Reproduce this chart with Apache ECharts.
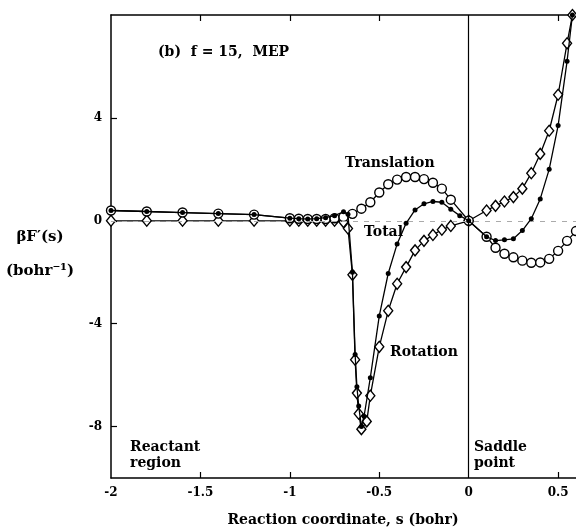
<!DOCTYPE html>
<html>
<head>
<meta charset="utf-8">
<script src="https://cdn.jsdelivr.net/npm/echarts@6/dist/echarts.min.js"></script>
<style>
html, body { margin: 0; padding: 0; background: #fff; }
#chart { width: 576px; height: 531px; }
</style>
</head>
<body>
<div id="chart"></div>
<script>
// reaction coordinate s (bohr) and beta*F'(s) (bohr^-1)
const sTrans = [-2, -1.8, -1.6, -1.4, -1.2, -1.0, -0.95, -0.9, -0.85, -0.8, -0.75, -0.7,
    -0.65, -0.6, -0.55, -0.5, -0.45, -0.4, -0.35, -0.3, -0.25, -0.2, -0.15, -0.1,
    0, 0.1, 0.15, 0.2, 0.25, 0.3, 0.35, 0.4, 0.45, 0.5, 0.55, 0.6];
const vTrans = [0.4, 0.36, 0.32, 0.28, 0.24, 0.1, 0.08, 0.07, 0.07, 0.07, 0.1, 0.15,
    0.27, 0.47, 0.72, 1.1, 1.42, 1.6, 1.7, 1.7, 1.62, 1.48, 1.25, 0.82,
    0, -0.62, -1.05, -1.28, -1.42, -1.55, -1.63, -1.62, -1.48, -1.17, -0.78, -0.4];

const sTotal = [-2, -1.8, -1.6, -1.4, -1.2, -1.0, -0.95, -0.9, -0.85, -0.8, -0.75, -0.7,
    -0.675, -0.65, -0.635, -0.625, -0.615, -0.6, -0.585,
    -0.55, -0.5, -0.45, -0.4, -0.35, -0.3, -0.25, -0.2, -0.15, -0.1, -0.05, 0,
    0.1, 0.15, 0.2, 0.25, 0.3, 0.35, 0.4, 0.45, 0.5, 0.55, 0.58];
const vTotal = [0.4, 0.36, 0.32, 0.28, 0.24, 0.1, 0.08, 0.07, 0.08, 0.12, 0.2, 0.35,
    0.25, -2.0, -5.2, -6.45, -7.2, -8.0, -7.6,
    -6.1, -3.7, -2.05, -0.9, -0.1, 0.42, 0.66, 0.75, 0.72, 0.45, 0.2, 0,
    -0.62, -0.77, -0.74, -0.7, -0.38, 0.08, 0.85, 2.0, 3.7, 6.2, 8.0];

const sRot = [-2, -1.8, -1.6, -1.4, -1.2, -1.0, -0.95, -0.9, -0.85, -0.8, -0.75, -0.7,
    -0.675, -0.65, -0.635, -0.625, -0.615, -0.6,
    -0.57, -0.55, -0.5, -0.45, -0.4, -0.35, -0.3, -0.25, -0.2, -0.15, -0.1, 0,
    0.1, 0.15, 0.2, 0.25, 0.3, 0.35, 0.4, 0.45, 0.5, 0.55, 0.58];
const vRot = [0, 0, 0, 0, 0, 0, 0, 0, 0, 0, 0, -0.05,
    -0.3, -2.1, -5.4, -6.7, -7.5, -8.1,
    -7.8, -6.8, -4.9, -3.5, -2.45, -1.8, -1.15, -0.78, -0.55, -0.35, -0.2, 0,
    0.4, 0.58, 0.75, 0.92, 1.25, 1.85, 2.6, 3.5, 4.9, 6.9, 8.0];

const xTickLabels = [-2, -1.5, -1, -0.5, 0, 0.5];
const xTicks = [-1.5, -1, -0.5, 0.5];
const yTickLabels = [-8, -4, 0, 4];

function zip(xs, ys) {
    return xs.map((x, i) => [x, ys[i]]);
}

const SERIF = '"DejaVu Serif", serif';
const textFont = 'bold 14px ' + SERIF;
const nameFont = 'bold 15px ' + SERIF;

const chart = echarts.init(document.getElementById('chart'));

const axisLabelStyle = {
    color: '#000',
    fontFamily: SERIF,
    fontWeight: 'bold',
    fontSize: 12,
};

const option = {
    animation: false,
    backgroundColor: '#fff',
    grid: { left: 111, top: 15, width: 466, height: 463 },
    xAxis: [
        {
            type: 'value', min: -2, max: 0.6, position: 'bottom',
            axisLine: { onZero: false, lineStyle: { color: '#000', width: 1.5 } },
            axisTick: { inside: true, length: 6, customValues: xTicks, lineStyle: { color: '#000', width: 1.2 } },
            axisLabel: Object.assign({ customValues: xTickLabels, margin: 9 }, axisLabelStyle),
            splitLine: { show: false },
        },
        {
            type: 'value', min: -2, max: 0.6, position: 'top',
            axisLine: { onZero: false, lineStyle: { color: '#000', width: 1.5 } },
            axisTick: { inside: true, length: 6, customValues: xTicks, lineStyle: { color: '#000', width: 1.2 } },
            axisLabel: { show: false },
            splitLine: { show: false },
        }
    ],
    yAxis: [
        {
            type: 'value', min: -10, max: 8, position: 'left',
            axisLine: { onZero: false, lineStyle: { color: '#000', width: 1.5 } },
            axisTick: { inside: true, length: 6, customValues: yTickLabels, lineStyle: { color: '#000', width: 1.2 } },
            axisLabel: Object.assign({ customValues: yTickLabels, margin: 9 }, axisLabelStyle),
            splitLine: { show: false },
        }
    ],
    series: [
        {
            name: 'Rotation', type: 'line', data: zip(sRot, vRot),
            symbol: 'diamond', symbolSize: [9, 11], showAllSymbol: true,
            lineStyle: { color: '#000', width: 1.3 },
            itemStyle: { color: '#fff', borderColor: '#000', borderWidth: 1.4 },
            z: 3,
            markLine: {
                silent: true, symbol: 'none', label: { show: false },
                data: [
                    { xAxis: 0, lineStyle: { type: 'solid', color: '#000', width: 1.2 } },
                    { yAxis: 0, lineStyle: { type: [5, 6], color: '#aaa', width: 1 } }
                ]
            }
        },
        {
            name: 'Translation', type: 'line', data: zip(sTrans, vTrans),
            symbol: 'circle', symbolSize: 9, showAllSymbol: true,
            lineStyle: { color: '#000', width: 1.3 },
            itemStyle: { color: '#fff', borderColor: '#000', borderWidth: 1.4 },
            z: 4,
        },
        {
            name: 'Total', type: 'line', data: zip(sTotal, vTotal),
            symbol: 'circle', symbolSize: 5, showAllSymbol: true,
            lineStyle: { color: '#000', width: 1.3 },
            itemStyle: { color: '#000', borderColor: '#000', borderWidth: 0 },
            z: 5,
        }
    ],
    graphic: [
        { type: 'text', x: 158, y: 52, style: { text: '(b)  f = 15,  MEP', font: textFont, fill: '#000', verticalAlign: 'middle' } },
        { type: 'text', x: 345, y: 163, style: { text: 'Translation', font: textFont, fill: '#000', verticalAlign: 'middle' } },
        { type: 'text', x: 364, y: 232, style: { text: 'Total', font: textFont, fill: '#000', verticalAlign: 'middle' } },
        { type: 'text', x: 390, y: 352, style: { text: 'Rotation', font: textFont, fill: '#000', verticalAlign: 'middle' } },
        { type: 'text', x: 130, y: 447, style: { text: 'Reactant', font: textFont, fill: '#000', verticalAlign: 'middle' } },
        { type: 'text', x: 130, y: 463, style: { text: 'region', font: textFont, fill: '#000', verticalAlign: 'middle' } },
        { type: 'text', x: 474, y: 447, style: { text: 'Saddle', font: textFont, fill: '#000', verticalAlign: 'middle' } },
        { type: 'text', x: 474, y: 463, style: { text: 'point', font: textFont, fill: '#000', verticalAlign: 'middle' } },
        { type: 'text', x: 40, y: 237, style: { text: 'βF′(s)', font: nameFont, fill: '#000', align: 'center', verticalAlign: 'middle' } },
        { type: 'text', x: 40, y: 271, style: { text: '(bohr⁻¹)', font: nameFont, fill: '#000', align: 'center', verticalAlign: 'middle' } },
        { type: 'text', x: 343, y: 520, style: { text: 'Reaction coordinate, s (bohr)', font: textFont, fill: '#000', align: 'center', verticalAlign: 'middle' } }
    ]
};

chart.setOption(option);
</script>
</body>
</html>
